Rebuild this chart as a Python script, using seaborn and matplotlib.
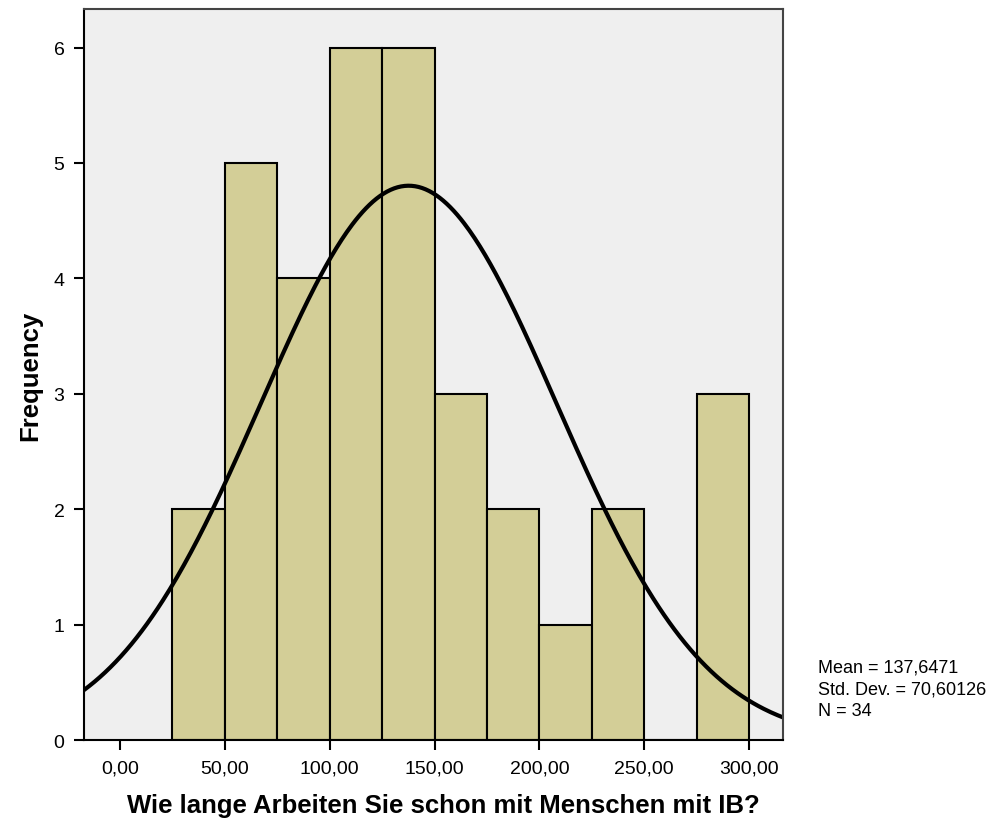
import numpy as np
import pandas as pd
import matplotlib
matplotlib.use("Agg")
import matplotlib.pyplot as plt
import seaborn as sns

# Data
bin_edges = [25, 50, 75, 100, 125, 150, 175, 200, 225, 250, 275, 300]
counts = [2, 5, 4, 6, 6, 3, 2, 1, 2, 0, 3]
mean_val = 137.6471
std_val = 70.60126
n_val = 34
x_ticks = [0, 50, 100, 150, 200, 250, 300]
x_tick_labels = ["0,00", "50,00", "100,00", "150,00", "200,00", "250,00", "300,00"]
y_ticks = [0, 1, 2, 3, 4, 5, 6]

sns.set_style("ticks")
plt.rcParams['font.family'] = ['Liberation Sans', 'DejaVu Sans']
plt.rcParams['text.color'] = 'black'
plt.rcParams['axes.labelcolor'] = 'black'
plt.rcParams['xtick.color'] = 'black'
plt.rcParams['ytick.color'] = 'black'

fig = plt.figure(figsize=(9.92, 8.2), dpi=100)
ax = fig.add_axes([0.0847, 0.0963, 0.7046, 0.8909])
ax.set_facecolor("#EFEFEF")

centers = [(a + b) / 2 for a, b in zip(bin_edges[:-1], bin_edges[1:])]
df = pd.DataFrame({"x": centers, "w": counts})
sns.histplot(data=df, x="x", weights="w", bins=bin_edges, ax=ax,
             color="#D3CE97", edgecolor="black", linewidth=1.5, alpha=1.0)

# Normal curve from stated mean / std / N
binw = bin_edges[1] - bin_edges[0]
xs = np.linspace(-17.2, 316.2, 400)
ys = n_val * binw * np.exp(-0.5 * ((xs - mean_val) / std_val) ** 2) / (std_val * np.sqrt(2 * np.pi))
sns.lineplot(x=xs, y=ys, ax=ax, color="black", linewidth=3)

ax.set_xlim(-17.2, 316.2)
ax.set_ylim(0, 6.33)
ax.set_xticks(x_ticks)
ax.set_xticklabels(x_tick_labels)
ax.set_yticks(y_ticks)
ax.tick_params(axis="both", labelsize=14, length=7, width=1.5, direction="out",
               color="black", labelcolor="black", pad=7)
for s in ["left", "bottom"]:
    ax.spines[s].set_linewidth(1.5)
    ax.spines[s].set_color("black")
for s in ["top", "right"]:
    ax.spines[s].set_visible(True)
    ax.spines[s].set_linewidth(1.5)
    ax.spines[s].set_color("#444444")

ax.set_xlabel("Wie lange Arbeiten Sie schon mit Menschen mit IB?", fontsize=18.5,
              fontweight="bold", labelpad=9, color="black")
ax.xaxis.set_label_coords(0.5136, -0.073)
ax.set_ylabel("Frequency", fontsize=18.5, fontweight="bold", labelpad=8, color="black")

stats = (f"Mean = {mean_val:.4f}".replace(".", ",") + "\n"
         + f"Std. Dev. = {std_val:.5f}".replace(".", ",").replace("Std, Dev,", "Std. Dev.") + "\n"
         + f"N = {n_val}")
fig.text(0.8246, 0.1955, stats, fontsize=13, va="top", ha="left", linespacing=1.34, color="black")

fig.savefig("out.png", dpi=100, facecolor="white")
